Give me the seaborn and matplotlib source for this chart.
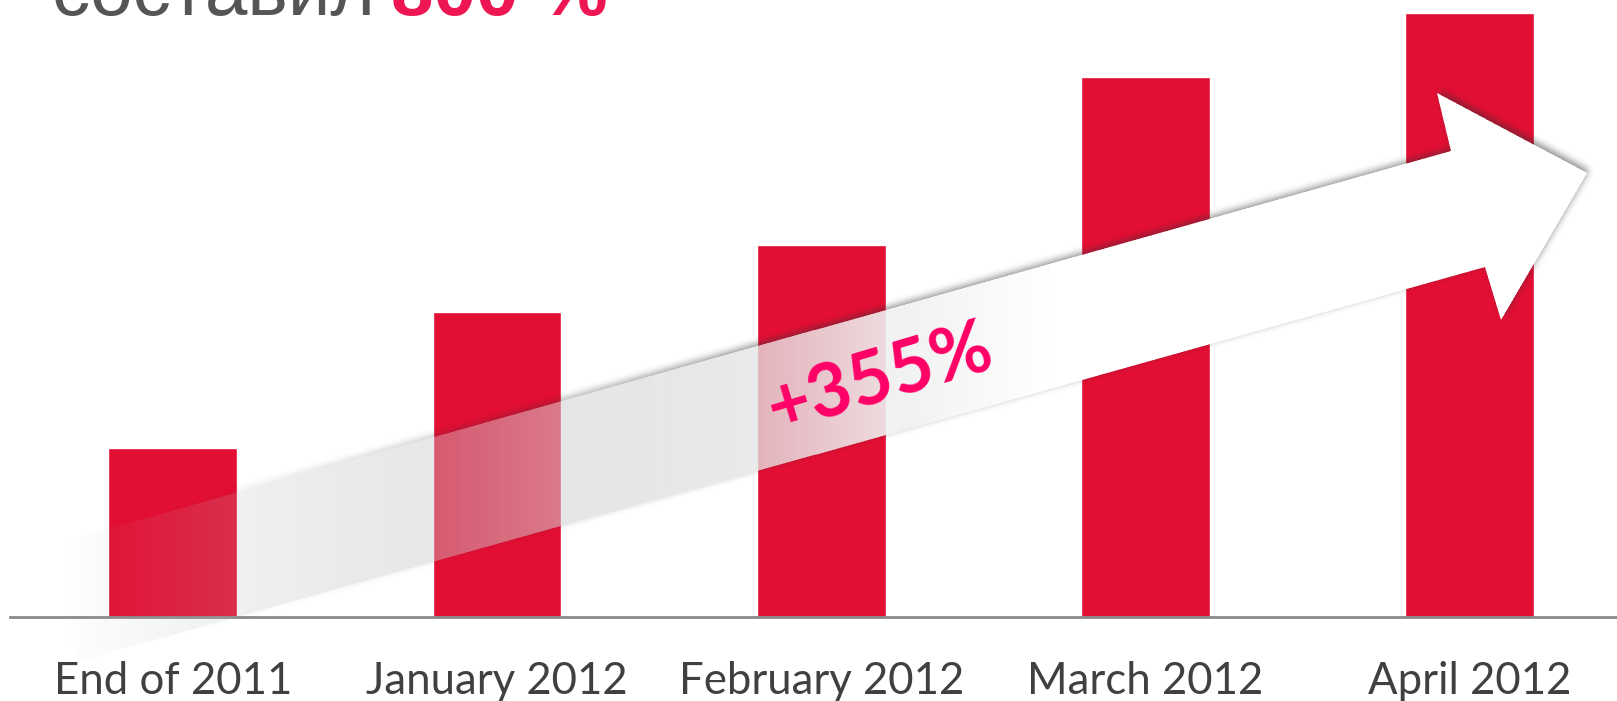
"""
Biểu đồ cột tăng trưởng theo tháng, kèm mũi tên trắng "+355%" đè lên các cột.
"""
import numpy as np
import pandas as pd
import matplotlib
matplotlib.use('Agg')
import matplotlib.pyplot as plt
import seaborn as sns
from matplotlib.path import Path
from matplotlib import font_manager

# Dữ liệu (đơn vị tương đối)
periods = ['End of 2011', 'January 2012', 'February 2012', 'March 2012', 'April 2012']
values = [100, 180, 220, 319, 357]
growth_label = '+355%'
title_text = 'составил'
title_value = '800 %'

BAR_RED = '#E30E34'
TITLE_GREY = '#555555'
TITLE_RED = '#EE1652'
GROWTH_PINK = '#FF0066'
LABEL_GREY = '#404040'

W, H = 1617, 701

# Khung mũi tên (toạ độ pixel, gốc ở góc trên trái)
ARROW_X = [45, 1450, 1436, 1586, 1500, 1484, 77]
ARROW_Y = [546.6, 151, 93, 173, 320, 267, 661.7]


def box_blur(img, r):
    """Làm mờ hộp tách rời theo 2 trục (dùng cumsum cho nhanh)."""
    out = img
    for axis in (0, 1):
        pad = [(0, 0), (0, 0)]
        pad[axis] = (r + 1, r)
        c = np.cumsum(np.pad(out, pad, mode='edge'), axis=axis)
        if axis == 0:
            out = (c[2 * r + 1:] - c[:-2 * r - 1]) / (2 * r + 1)
        else:
            out = (c[:, 2 * r + 1:] - c[:, :-2 * r - 1]) / (2 * r + 1)
    return out


def bold_family(candidates):
    """Chọn font đầu tiên thực sự có bản Bold."""
    for fam in candidates:
        path = font_manager.findfont(
            font_manager.FontProperties(family=fam, weight='bold'),
            fallback_to_default=False)
        if 'bold' in path.lower():
            return fam
    return 'DejaVu Sans'


sns.set_theme(style='white')
plt.rcParams['font.family'] = ['Lato', 'DejaVu Sans']
BOLD_FAM = bold_family(['Lato', 'Open Sans', 'Noto Sans'])

fig = plt.figure(figsize=(W / 100, H / 100), dpi=100)
ax = fig.add_axes([10 / W, 84.4 / H, 1 - 10 / W, 616.6 / H])

df = pd.DataFrame({'period': periods, 'value': values})
sns.barplot(data=df, x='period', y='value', color=BAR_RED, saturation=1,
            width=0.397, ax=ax)
ax.set_xlim(-0.502, 4.454)
ax.set_ylim(0, max(values) * 1.022)
ax.set_xlabel('')
ax.set_ylabel('')
ax.set_yticks([])
sns.despine(ax=ax, left=True)
ax.spines['bottom'].set_color('#8a8a8a')
ax.spines['bottom'].set_linewidth(2)
ax.tick_params(axis='x', length=0, pad=32, labelsize=31.5, labelcolor=LABEL_GREY)

# Lớp phủ toàn hình, toạ độ pixel
ov = fig.add_axes([0, 0, 1, 1])
ov.set_xlim(0, W)
ov.set_ylim(H, 0)
ov.axis('off')

# Raster hoá mũi tên (siêu lấy mẫu 2x để khử răng cưa)
ss = 2
gx = (np.arange(W * ss) + 0.5) / ss
gy = (np.arange(H * ss) + 0.5) / ss
XX, YY = np.meshgrid(gx, gy)
inside = Path(np.column_stack([ARROW_X, ARROW_Y])).contains_points(
    np.column_stack([XX.ravel(), YY.ravel()]))
mask = inside.reshape(H * ss, W * ss).astype(float)
mask = mask.reshape(H, ss, W, ss).mean(axis=(1, 3))
del XX, YY, inside

xs = np.arange(W) + 0.5
# Bóng đổ mềm, lệch lên trên
shadow = np.roll(mask, shift=(-3, 2), axis=(0, 1))
for _ in range(3):
    shadow = box_blur(shadow, 3)
shadow = 0.55 * shadow * (1 - mask) * np.clip((xs - 150) / 600, 0, 1)[None, :]

# Thân mũi tên: mờ dần về bên trái, xám -> trắng
band_a = mask * np.clip((xs - 60) / 900, 0, 1)[None, :]
band_c = np.clip(175 + 0.091 * (xs - 170), 0, 255)[None, :] / 255

out_a = band_a + shadow * (1 - band_a)
out_c = (band_c * band_a + 0.2 * shadow * (1 - band_a)) / np.maximum(out_a, 1e-6)
rgba = np.dstack([out_c, out_c, out_c, out_a]).clip(0, 1)
ov.imshow(rgba, extent=(0, W, H, 0), interpolation='none', aspect='auto', zorder=1)

ov.text(880, 379, growth_label, rotation=16.5, rotation_mode='anchor',
        ha='center', va='center', fontsize=53, fontweight='bold',
        family=[BOLD_FAM, 'DejaVu Sans'], color=GROWTH_PINK, zorder=3)

# Tiêu đề bị cắt ở mép trên (như ảnh gốc)
ov.text(52, 15, title_text, fontsize=55, color=TITLE_GREY,
        family=['Liberation Sans', 'DejaVu Sans'], ha='left', va='baseline')
ov.text(391, 15, title_value, fontsize=55, fontweight='bold', color=TITLE_RED,
        family=['Liberation Sans', 'DejaVu Sans'], ha='left', va='baseline')

fig.savefig('out.png', dpi=100)
plt.close(fig)
